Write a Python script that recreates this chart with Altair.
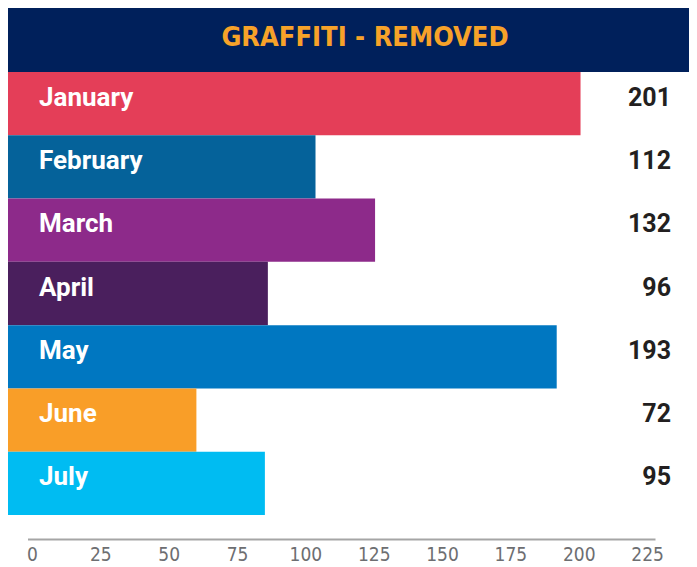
import altair as alt
import pandas as pd

months = ["January", "February", "March", "April", "May", "June", "July"]
removed = [201, 112, 132, 96, 193, 72, 95]
colors = ["#e43e58", "#05629a", "#8d2a8a", "#4a1f5d", "#0077c1", "#f99e28", "#00bcf2"]
ticks = [0, 25, 50, 75, 100, 125, 150, 175, 200, 225]
title_text = "GRAFFITI - REMOVED"

df = pd.DataFrame({"month": months, "removed": removed, "color": colors})
tick_df = pd.DataFrame({"tick": ticks})
title_df = pd.DataFrame({"t": [title_text]})

W, H = 681, 531
COND = "DejaVu Sans Condensed, Roboto, sans-serif"
ROBO = "Roboto, sans-serif"

yenc = alt.Y("month:N", sort=months,
             scale=alt.Scale(range=[64, 507], paddingInner=0, paddingOuter=0),
             axis=None)

header = alt.Chart(title_df).mark_rect(color="#00205b").encode(
    x=alt.value(0), x2=alt.value(W), y=alt.value(0), y2=alt.value(64))

title = alt.Chart(title_df).mark_text(
    color="#f7a229", font=COND, fontWeight="bold", fontSize=27,
    align="center", baseline="middle").encode(
    x=alt.value(357), y=alt.value(30), text="t:N")

bars = alt.Chart(df).mark_bar(clip=True).encode(
    x=alt.X("removed:Q", scale=alt.Scale(domain=[0, 225], range=[-26, 644], nice=False), axis=None),
    y=yenc,
    color=alt.Color("color:N", scale=None),
)

month_text = alt.Chart(df).mark_text(
    align="left", baseline="middle", color="white", font=ROBO,
    fontWeight="bold", fontSize=26, dy=-6).encode(
    x=alt.value(31), y=yenc, text="month:N")

value_text = alt.Chart(df).mark_text(
    align="right", baseline="middle", color="#231f20", font=ROBO,
    fontWeight="bold", fontSize=25, dy=-6).encode(
    x=alt.value(663), y=yenc, text="removed:Q")

axis_layer = alt.Chart(tick_df).mark_point(opacity=0, size=1).encode(
    x=alt.X("tick:Q",
            scale=alt.Scale(domain=[-1.65, 227.9], range=[19.5, 647], nice=False, zero=False),
            axis=alt.Axis(values=ticks, title=None, grid=False, ticks=False,
                          domainColor="#a5a5a5", domainWidth=2,
                          labelColor="#6d6e71", labelFont=COND, labelFontSize=19,
                          labelPadding=6, labelFlush=False)),
    y=alt.value(300),
)

chart = alt.layer(header, title, bars, month_text, value_text, axis_layer).resolve_scale(
    x="independent").properties(width=W, height=H, padding=0, background="white").configure_view(stroke=None)

chart.save("out.html", embed_options={"renderer": "svg", "actions": False})
